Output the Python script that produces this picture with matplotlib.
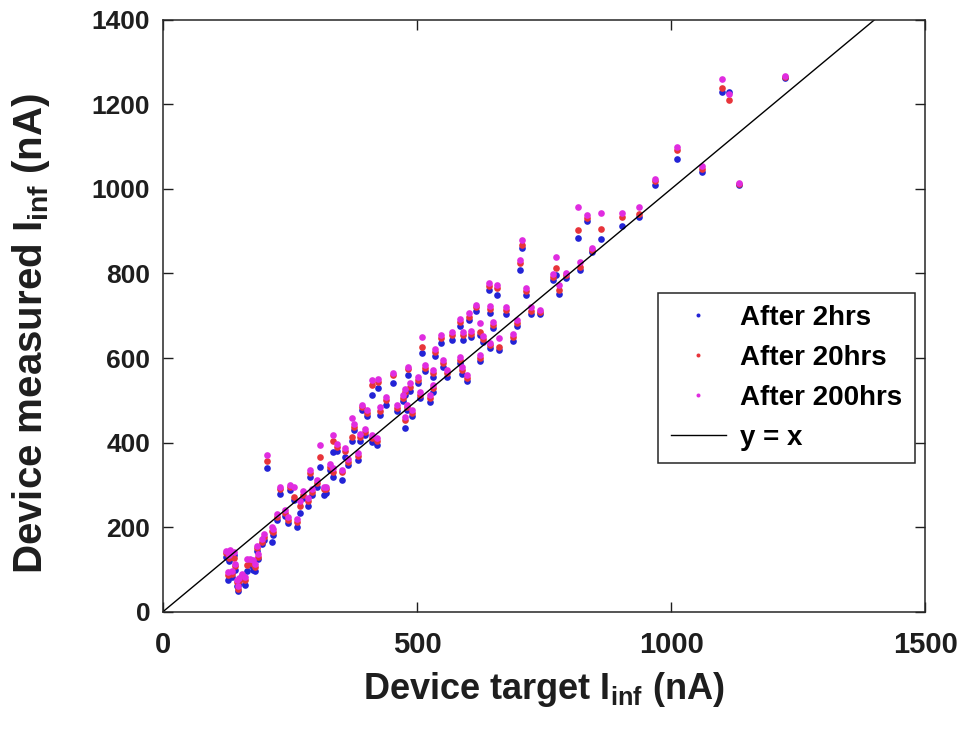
import matplotlib
matplotlib.use("Agg")
import matplotlib.pyplot as plt

plt.rcParams['font.family'] = ['Liberation Sans', 'DejaVu Sans']
plt.rcParams['font.weight'] = 'bold'
plt.rcParams['mathtext.fontset'] = 'custom'
plt.rcParams['mathtext.rm'] = 'Liberation Sans:bold'
plt.rcParams['mathtext.it'] = 'Liberation Sans:bold'
plt.rcParams['mathtext.bf'] = 'Liberation Sans:bold'
plt.rcParams['mathtext.default'] = 'rm'

# Device target I_inf (nA)
target = [125, 128, 130, 132, 136, 140, 142, 145, 147, 150, 155, 161, 165, 171, 177, 181,
          185, 187, 195, 200, 204, 214, 216, 224, 230, 240, 246, 250, 259, 263, 270, 275,
          285, 289, 293, 303, 309, 318, 322, 328, 334, 334, 342, 352, 358, 364, 372, 377,
          383, 387, 391, 397, 401, 411, 411, 421, 423, 427, 440, 452, 460, 472, 476, 476,
          480, 482, 486, 491, 501, 505, 509, 515, 525, 531, 531, 535, 548, 551, 560, 568,
          584, 584, 588, 590, 598, 603, 607, 617, 623, 623, 629, 641, 643, 643, 649, 657,
          662, 676, 688, 696, 702, 706, 715, 725, 741, 767, 774, 780, 794, 816, 820, 835,
          845, 861, 904, 936, 969, 1012, 1061, 1100, 1113, 1134, 1223]

# Device measured I_inf (nA) after 2 hrs
after_2hrs = [130, 76, 120, 140, 83, 135, 100, 60, 50, 66, 80, 64, 96, 110, 100, 96,
              145, 126, 160, 170, 340, 165, 182, 218, 278, 226, 210, 287, 265, 200, 234, 270,
              250, 318, 276, 296, 343, 277, 281, 335, 319, 378, 380, 312, 367, 348, 405, 430,
              359, 405, 478, 418, 462, 513, 402, 395, 530, 466, 490, 541, 475, 498, 435, 512,
              478, 560, 522, 462, 540, 505, 612, 570, 497, 555, 520, 605, 636, 580, 556, 643,
              676, 588, 562, 643, 545, 690, 650, 712, 592, 655, 638, 760, 624, 707, 670, 750,
              620, 705, 640, 676, 809, 860, 750, 705, 705, 785, 797, 752, 790, 884, 809, 925,
              850, 882, 913, 934, 1010, 1071, 1040, 1230, 1230, 1010, 1262]

# after 20 hrs
after_20hrs = [140, 88, 128, 138, 90, 128, 108, 70, 55, 72, 86, 75, 110, 118, 112, 106,
               151, 130, 166, 177, 357, 190, 189, 225, 290, 234, 218, 295, 272, 213, 250, 277,
               262, 329, 284, 305, 367, 290, 290, 343, 330, 405, 390, 330, 380, 355, 414, 437,
               368, 414, 485, 426, 471, 537, 410, 405, 544, 475, 501, 560, 482, 506, 454, 520,
               485, 575, 532, 471, 549, 513, 627, 577, 505, 565, 530, 615, 648, 589, 565, 655,
               686, 596, 572, 655, 553, 698, 657, 720, 601, 662, 645, 770, 630, 715, 679, 765,
               627, 714, 650, 683, 825, 868, 758, 712, 709, 792, 813, 760, 796, 903, 815, 932,
               856, 905, 934, 940, 1018, 1092, 1048, 1239, 1210, 1012, 1265]

# after 200 hrs
after_200hrs = [145, 95, 135, 147, 97, 142, 112, 76, 60, 80, 90, 82, 125, 126, 123, 112,
                156, 136, 172, 183, 371, 200, 196, 232, 296, 240, 225, 300, 296, 220, 262, 285,
                270, 335, 290, 312, 395, 296, 296, 350, 340, 419, 396, 336, 388, 362, 459, 445,
                375, 420, 490, 432, 478, 549, 418, 412, 550, 485, 508, 565, 488, 512, 460, 527,
                490, 579, 540, 478, 555, 520, 650, 584, 512, 572, 536, 622, 655, 596, 572, 662,
                692, 602, 578, 662, 560, 707, 664, 726, 608, 683, 652, 778, 636, 722, 686, 773,
                648, 720, 656, 690, 832, 880, 766, 721, 714, 798, 840, 773, 802, 958, 828, 938,
                861, 943, 943, 958, 1024, 1100, 1055, 1260, 1225, 1014, 1267]

ref_line = [0, 1500]

xticks = [0, 500, 1000, 1500]
yticks = [0, 200, 400, 600, 800, 1000, 1200, 1400]

fig = plt.figure(figsize=(9.69, 7.31), dpi=100)
ax = fig.add_axes([0.168, 0.163, 0.787, 0.81])

ms = 4.8
ax.plot(target, after_2hrs, 'o', color='#2323d6', markersize=ms, markeredgewidth=0, label='After 2hrs')
ax.plot(target, after_20hrs, 'o', color='#e8343a', markersize=ms, markeredgewidth=0, label='After 20hrs')
ax.plot(target, after_200hrs, 'o', color='#e02ce0', markersize=ms, markeredgewidth=0, label='After 200hrs')
ax.plot(ref_line, ref_line, '-', color='black', linewidth=1.0, label='y = x')

ax.set_xlim(0, 1500)
ax.set_ylim(0, 1400)
ax.set_xticks(xticks)
ax.set_yticks(yticks)
ax.tick_params(direction='in', length=7, width=1, top=True, right=True,
               colors='#1e1e1e', labelcolor='#1e1e1e')
ax.tick_params(axis='x', labelsize=21, pad=14)
ax.tick_params(axis='y', labelsize=19, pad=9)
for lab in ax.get_xticklabels() + ax.get_yticklabels():
    lab.set_fontweight('bold')
for sp in ax.spines.values():
    sp.set_linewidth(1.1)
    sp.set_color('#262626')

ax.set_xlabel(r'Device target I$_{inf}$ (nA)', fontsize=26, fontweight='bold', color='#1e1e1e', labelpad=8)
ax.set_ylabel(r'Device measured I$_{inf}$ (nA)', fontsize=29, fontweight='bold', color='#1e1e1e')
ax.yaxis.set_label_coords(-0.145, 0.47)

leg = ax.legend(loc='upper right', bbox_to_anchor=(0.986, 0.539),
                fancybox=False, edgecolor='#262626', framealpha=1, fontsize=20,
                markerscale=0.6, handlelength=2.0, borderaxespad=0, labelspacing=0.5,
                borderpad=0.45, handletextpad=0.5)
leg.get_frame().set_linewidth(1.1)
for t in leg.get_texts():
    t.set_fontweight('bold')

fig.savefig('out.png', dpi=100)
